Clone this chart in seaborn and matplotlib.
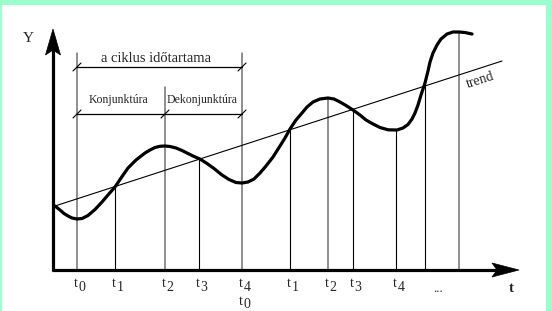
import matplotlib
matplotlib.use('Agg')
import matplotlib.pyplot as plt
import seaborn as sns
import pandas as pd
from matplotlib.patches import Rectangle, Polygon

sns.set_theme(style='white')
plt.rcParams['font.family'] = ['Liberation Serif', 'DejaVu Serif']

# ---- data (diagram units = pixels of the reference, y grows downward) ----
curve_x = [55, 60, 64, 68, 72, 77, 82, 88, 95, 102, 108, 115,
           121, 128, 136, 145, 150, 155, 160, 165,
           170, 176, 182, 188, 194, 200,
           207, 214, 222, 229, 236, 242,
           248, 254, 260, 266, 273, 280, 285, 290, 296, 302, 307, 313, 320, 328,
           334, 340, 346, 353, 360, 366, 373, 380, 388, 397,
           403, 408, 412, 415, 418, 421, 423, 425, 428, 430, 433, 437, 441, 447,
           453, 459, 465, 472]
curve_y = [206, 210, 213.5, 216, 218, 219, 218.5, 215.5, 209.5, 202, 195, 187,
           178, 168, 160, 153, 150, 147.5, 146.3, 146,
           146.5, 148, 150.5, 153.5, 156.5, 159,
           163.5, 168.5, 175, 179.5, 182.5, 183,
           182, 179, 173, 166, 157, 146, 138, 129, 120, 113, 107, 102, 99, 98,
           99, 102, 105.5, 110, 115, 120, 124, 127.5, 129.8, 130,
           128, 124.5, 119, 113, 105, 95, 89, 83, 71, 62, 53, 45, 39, 34,
           32, 32, 32.5, 34]
trend_x = [55, 502]
trend_y = [206, 61]
vline_x = [77, 115, 165, 199, 242, 290, 328, 353, 396, 425, 459]
vline_top = [53, 187, 87, 159, 53, 129, 98, 110, 130, 83, 32]
vline_gray = [True, False, True, False, True, False, True, False, False, False, True]
tick_x = [77, 115, 165, 199, 242, 290, 328, 353, 396]
tick_sub = ['0', '1', '2', '3', '4', '1', '2', '3', '4']
cycle_label = 'a ciklus időtartama'
phase_labels = ['Konjunktúra', 'Dekonjunktúra']
phase_x = [118, 202]
bracket_ends = [77, 165, 242]

fig = plt.figure(figsize=(5.52, 3.11), dpi=100, facecolor='#99ffcc')
ax = fig.add_axes([0, 0, 1, 1])
ax.add_patch(Rectangle((2, 5), 544, 306, facecolor='white', edgecolor='none', zorder=0))

# vertical lines
for x, top, g in zip(vline_x, vline_top, vline_gray):
    ax.plot([x, x], [270, top], color='#707070' if g else 'black',
            lw=1.1 if g else 0.8, zorder=2)

# trend + curve
sns.lineplot(x=trend_x, y=trend_y, ax=ax, color='black', lw=0.8, zorder=3,
             sort=False, estimator=None)
df = pd.DataFrame({'x': curve_x, 'y': curve_y})
sns.lineplot(data=df, x='x', y='y', ax=ax, color='black', lw=2.3, zorder=4,
             sort=False, estimator=None, solid_capstyle='round', solid_joinstyle='round')
ax.set_xlim(0, 552)
ax.set_ylim(311, 0)
ax.axis('off')

# axes with arrows
ax.plot([53, 53], [271, 48], color='black', lw=2.3, zorder=5, solid_capstyle='butt')
ax.add_patch(Polygon([(53, 29), (45.5, 55), (53, 50), (60.5, 55)], closed=True,
                     facecolor='black', edgecolor='black', lw=0.5, zorder=5))
ax.plot([52, 498], [270, 270], color='black', lw=2.3, zorder=5, solid_capstyle='butt')
ax.add_patch(Polygon([(519, 270), (492, 263), (497, 270), (492, 277)], closed=True,
                     facecolor='black', edgecolor='black', lw=0.5, zorder=5))

# brackets
for yb, ends in [(67, [77, 242]), (114, bracket_ends)]:
    ax.plot([77, 242], [yb, yb], color='black', lw=0.9, zorder=3)
    for xe in ends:
        ax.plot([xe - 4, xe + 4], [yb + 4, yb - 4], color='black', lw=0.8, zorder=3)

ax.text(156, 62, cycle_label, fontsize=10.5, ha='center', va='baseline')
for px, lab in zip(phase_x, phase_labels):
    ax.text(px, 103, lab, fontsize=8.5, ha='center', va='baseline')

ax.text(28, 42, 'Y', fontsize=11, ha='center', va='baseline')
ax.text(480, 80, 'trend', fontsize=10, ha='center', va='center', rotation=18)

# tick labels
for x, s in zip(tick_x, tick_sub):
    ax.text(x - 3, 287, 't', fontsize=10, ha='left', va='baseline')
    ax.text(x + 1.5, 291, s, fontsize=10, ha='left', va='baseline')
ax.text(239, 305, 't', fontsize=10, ha='left', va='baseline')
ax.text(243.5, 308.5, '0', fontsize=10, ha='left', va='baseline')
ax.text(438, 292, '...', fontsize=9, ha='center', va='baseline')
ax.text(511, 292, 't', fontsize=10.5, fontweight='bold', ha='center', va='baseline')

fig.savefig('out.png', dpi=100, facecolor=fig.get_facecolor())
